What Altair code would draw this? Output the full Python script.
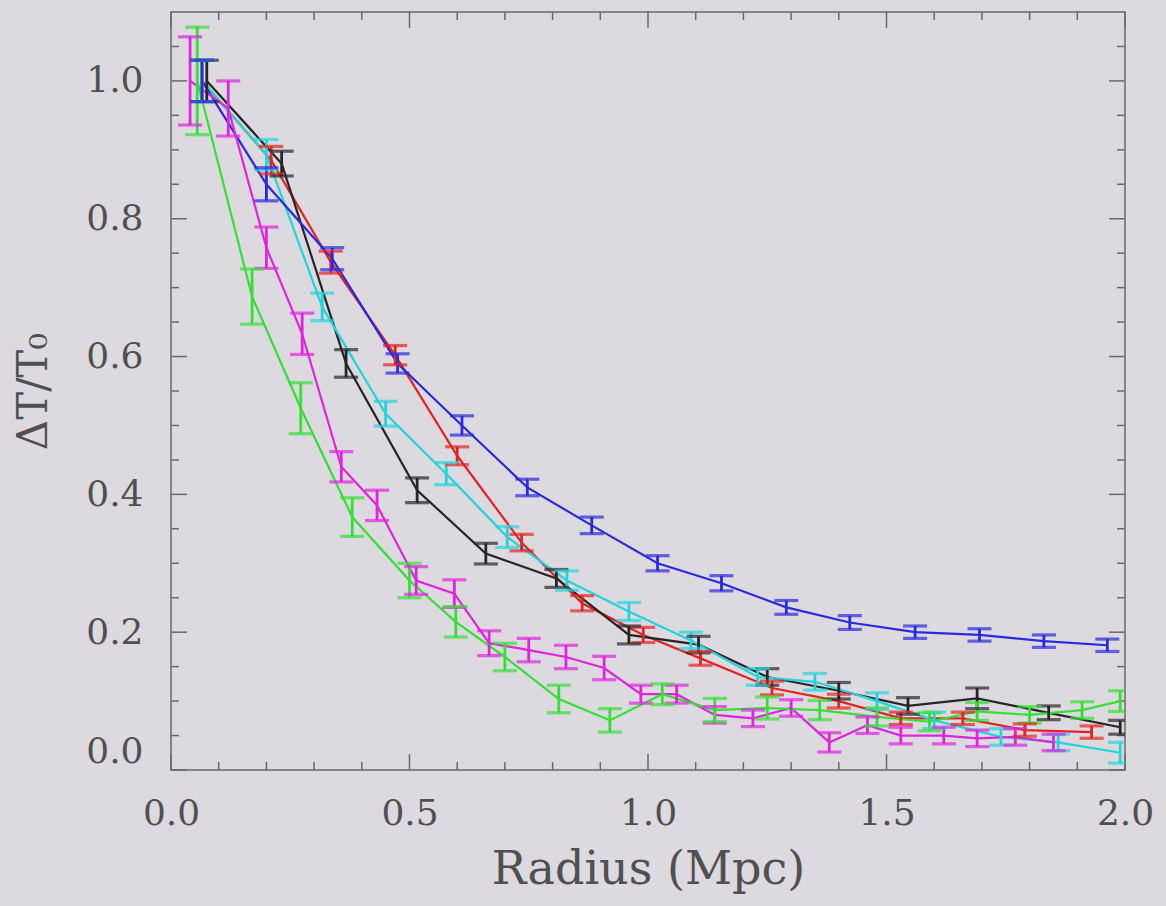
import altair as alt
import pandas as pd

# ---------------- data ----------------
blue_x = [0.065, 0.2, 0.338, 0.475, 0.61, 0.747, 0.882, 1.02, 1.154, 1.29, 1.423, 1.56, 1.695, 1.83, 1.963]
blue_y = [1.0, 0.85, 0.742, 0.59, 0.50, 0.41, 0.355, 0.30, 0.271, 0.236, 0.214, 0.20, 0.196, 0.187, 0.181]
blue_e = [0.03, 0.024, 0.016, 0.014, 0.014, 0.012, 0.012, 0.011, 0.011, 0.01, 0.01, 0.009, 0.009, 0.009, 0.009]

red_x = [0.065, 0.21, 0.335, 0.47, 0.6, 0.735, 0.862, 0.99, 1.11, 1.26, 1.40, 1.53, 1.66, 1.79, 1.93]
red_y = [1.0, 0.885, 0.737, 0.602, 0.456, 0.33, 0.242, 0.196, 0.162, 0.119, 0.10, 0.075, 0.075, 0.058, 0.055]
red_e = [0.03, 0.02, 0.016, 0.014, 0.013, 0.012, 0.011, 0.011, 0.01, 0.01, 0.01, 0.009, 0.009, 0.009, 0.009]

black_x = [0.075, 0.232, 0.367, 0.516, 0.66, 0.808, 0.96, 1.106, 1.25, 1.40, 1.545, 1.69, 1.84, 1.99]
black_y = [1.0, 0.88, 0.59, 0.406, 0.314, 0.278, 0.196, 0.182, 0.135, 0.115, 0.093, 0.104, 0.083, 0.062]
black_e = [0.03, 0.018, 0.02, 0.018, 0.015, 0.013, 0.013, 0.012, 0.012, 0.012, 0.012, 0.015, 0.01, 0.01]

cyan_x = [0.065, 0.2, 0.317, 0.45, 0.577, 0.705, 0.83, 0.96, 1.09, 1.23, 1.35, 1.48, 1.6, 1.74, 1.86, 1.99]
cyan_y = [1.0, 0.893, 0.672, 0.517, 0.43, 0.338, 0.275, 0.23, 0.188, 0.135, 0.128, 0.10, 0.072, 0.048, 0.04, 0.025]
cyan_e = [0.03, 0.022, 0.02, 0.018, 0.016, 0.015, 0.014, 0.013, 0.012, 0.012, 0.012, 0.012, 0.012, 0.012, 0.012, 0.015]

magenta_x = [0.04, 0.12, 0.2, 0.275, 0.357, 0.432, 0.514, 0.594, 0.667, 0.75, 0.828, 0.908,
             0.985, 1.06, 1.14, 1.22, 1.30, 1.38, 1.46, 1.53, 1.62, 1.69, 1.77, 1.85]
magenta_y = [1.0, 0.96, 0.758, 0.633, 0.44, 0.384, 0.275, 0.256, 0.184, 0.174, 0.164, 0.148,
             0.11, 0.11, 0.08, 0.075, 0.09, 0.04, 0.065, 0.05, 0.05, 0.046, 0.048, 0.04]
magenta_e = [0.064, 0.04, 0.03, 0.03, 0.022, 0.022, 0.02, 0.02, 0.018, 0.017, 0.017, 0.017,
             0.013, 0.013, 0.012, 0.012, 0.012, 0.014, 0.012, 0.012, 0.012, 0.012, 0.012, 0.012]

green_x = [0.055, 0.17, 0.272, 0.38, 0.5, 0.597, 0.70, 0.813, 0.92, 1.03, 1.14, 1.25, 1.36,
           1.48, 1.59, 1.69, 1.80, 1.91, 1.99]
green_y = [1.0, 0.687, 0.525, 0.367, 0.275, 0.215, 0.164, 0.103, 0.072, 0.11, 0.087, 0.09, 0.087,
           0.077, 0.07, 0.085, 0.08, 0.087, 0.1]
green_e = [0.078, 0.04, 0.037, 0.028, 0.025, 0.022, 0.02, 0.02, 0.017, 0.015, 0.017, 0.016, 0.014,
           0.013, 0.013, 0.013, 0.012, 0.012, 0.015]

series_names = ["red", "black", "cyan", "blue", "magenta", "green"]
series_colors = ["#e32424", "#262626", "#22d4dc", "#2a2ae0", "#e024e0", "#34e034"]

x_major = [0.0, 0.5, 1.0, 1.5, 2.0]
x_minor = [0.1, 0.2, 0.3, 0.4, 0.6, 0.7, 0.8, 0.9, 1.1, 1.2, 1.3, 1.4, 1.6, 1.7, 1.8, 1.9]
y_major = [0.0, 0.2, 0.4, 0.6, 0.8, 1.0]
y_minor = [0.05, 0.1, 0.15, 0.25, 0.3, 0.35, 0.45, 0.5, 0.55, 0.65, 0.7, 0.75, 0.85, 0.9, 0.95, 1.05]

# ---------------- build tables ----------------
raw = {
    "red": (red_x, red_y, red_e),
    "black": (black_x, black_y, black_e),
    "cyan": (cyan_x, cyan_y, cyan_e),
    "blue": (blue_x, blue_y, blue_e),
    "magenta": (magenta_x, magenta_y, magenta_e),
    "green": (green_x, green_y, green_e),
}
rows = []
for name in series_names:
    xs, ys, es = raw[name]
    for x, y, e in zip(xs, ys, es):
        rows.append({"series": name, "x": x, "y": y, "lo": y - e, "hi": y + e})
df = pd.DataFrame(rows)

W, H = 954, 758
XMAX, YMAX = 2.0, 1.1
BG = "#dcd9df"
FRAME = "#6a6a6a"
TXT = "#505050"
FONT = "DejaVu Serif"

xs_ = alt.Scale(domain=[0, XMAX], nice=False, zero=False)
ys_ = alt.Scale(domain=[0, YMAX], nice=False, zero=False)
col = alt.Color("series:N", scale=alt.Scale(domain=series_names, range=series_colors), legend=None)

x_axis = alt.Axis(
    values=x_major, format=".1f", title="Radius (Mpc)", grid=False, domain=False,
    ticks=False, labelFont=FONT, labelFontSize=36, labelColor=TXT, labelPadding=26,
    labelFlush=False, labelOverlap=False, titleFont=FONT, titleFontSize=46,
    titleFontWeight="normal", titleColor=TXT, titlePadding=16)
y_axis = alt.Axis(
    values=y_major, format=".1f", title="ΔT/T₀", grid=False, domain=False,
    ticks=False, labelFont=FONT, labelFontSize=36, labelColor=TXT, labelPadding=28,
    labelFlush=True, labelOverlap=False, titleFont=FONT, titleFontSize=42,
    titleFontWeight="normal", titleColor=TXT, titlePadding=30)


def X(field):
    return alt.X(field, scale=xs_, axis=x_axis)


def Y(field):
    return alt.Y(field, scale=ys_, axis=y_axis)


base = alt.Chart(df)

lines = base.mark_line(strokeWidth=2.2, clip=True).encode(
    x=X("x:Q"), y=Y("y:Q"), color=col, detail="series:N", order="x:Q")

bars = base.mark_rule(strokeWidth=2.8, clip=True).encode(
    x=X("x:Q"), y=Y("lo:Q"), y2="hi:Q", color=col)
cap_lo = base.mark_tick(orient="horizontal", size=24, thickness=3.2, clip=True).encode(
    x=X("x:Q"), y=Y("lo:Q"), color=col)
cap_hi = base.mark_tick(orient="horizontal", size=24, thickness=3.2, clip=True).encode(
    x=X("x:Q"), y=Y("hi:Q"), color=col)

# inward frame ticks (IDL style), drawn on all four sides
MAJ_PX, MIN_PX = 16, 8
tick_rows = [{"v": v, "len": MAJ_PX} for v in x_major] + [{"v": v, "len": MIN_PX} for v in x_minor]
xt = pd.DataFrame(tick_rows)
xt["ylen"] = xt["len"] / H * YMAX
xt["ytop"] = YMAX - xt["ylen"]

tick_rows = [{"v": v, "len": MAJ_PX} for v in y_major] + [{"v": v, "len": MIN_PX} for v in y_minor]
yt = pd.DataFrame(tick_rows)
yt["xlen"] = yt["len"] / W * XMAX
yt["xright"] = XMAX - yt["xlen"]

tk = dict(color=FRAME, strokeWidth=1.5)
bottom_t = alt.Chart(xt).mark_rule(**tk).encode(x=X("v:Q"), y=Y("ylen:Q"), y2=alt.datum(0))
top_t = alt.Chart(xt).mark_rule(**tk).encode(x=X("v:Q"), y=Y("ytop:Q"), y2=alt.datum(YMAX))
left_t = alt.Chart(yt).mark_rule(**tk).encode(y=Y("v:Q"), x=X("xlen:Q"), x2=alt.datum(0))
right_t = alt.Chart(yt).mark_rule(**tk).encode(y=Y("v:Q"), x=X("xright:Q"), x2=alt.datum(XMAX))

chart = alt.layer(
    bottom_t, top_t, left_t, right_t, lines, bars, cap_lo, cap_hi
).properties(
    width=W, height=H,
    autosize=alt.AutoSizeParams(type="none"),
    padding={"left": 171, "top": 12, "right": 41, "bottom": 136},
    background=BG,
).configure_view(
    stroke=FRAME, strokeWidth=1.5, fill=BG
)

chart.save("out.html", embed_options={"renderer": "svg", "actions": False})
